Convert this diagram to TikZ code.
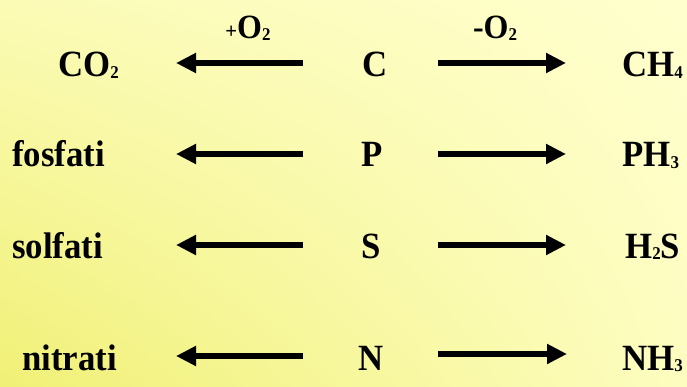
\documentclass[tikz,border=0pt]{standalone}
\usepackage{fontspec}
\setmainfont{Liberation Serif}
\newfontfamily\chemfont{Liberation Serif}[FakeStretch=0.94]
\usetikzlibrary{arrows.meta,shadings}
\definecolor{bgll}{RGB}{240,240,118}
\definecolor{bgul}{RGB}{251,251,182}
\definecolor{bglr}{RGB}{253,253,192}
\definecolor{bgur}{RGB}{255,255,206}
\newcommand{\sbs}[1]{\raisebox{-1.5pt}{\fontsize{18}{18}\selectfont #1}}
\tikzset{
  chem/.style={font=\chemfont\fontsize{37}{37}\selectfont\bfseries, inner sep=0pt, text=black},
  lab/.style={font=\chemfont\fontsize{34}{34}\selectfont\bfseries, inner sep=0pt, text=black},
  arr/.style={line width=6.5pt, -{Triangle[length=20pt,width=19pt]}, black}
}
\begin{document}
\begin{tikzpicture}[x=1pt,y=-1pt]
\shade[lower left=bgll, upper left=bgul, lower right=bglr, upper right=bgur] (0,387) rectangle (687,0);
\useasboundingbox (0,0) rectangle (687,387);
% labels
\node[lab, anchor=base] (plus) at (248,39) {{\fontsize{22}{22}\selectfont +}O\sbs{2}};
\node[lab, anchor=base] (minus) at (495,39) {-O\sbs{2}};
% row 1
\node[chem, anchor=base west] (co2) at (58,77) {CO\sbs{2}};
\node[chem, anchor=base] (c) at (375,77) {C};
\node[chem, anchor=base west] (ch4) at (622,77) {CH\sbs{4}};
\coordinate (l1a) at (303,63); \coordinate (l1b) at (176,63);
\coordinate (r1a) at (438,63); \coordinate (r1b) at (566,63);
\draw[arr] (l1a) -- (l1b);
\draw[arr] (r1a) -- (r1b);
% row 2
\node[chem, anchor=base west] (fos) at (12,167) {fosfati};
\node[chem, anchor=base] (p) at (372,167) {P};
\node[chem, anchor=base west] (ph3) at (622,167) {PH\sbs{3}};
\coordinate (l2a) at (303,154); \coordinate (l2b) at (176,154);
\coordinate (r2a) at (438,154); \coordinate (r2b) at (566,154);
\draw[arr] (l2a) -- (l2b);
\draw[arr] (r2a) -- (r2b);
% row 3
\node[chem, anchor=base west] (sol) at (12,258) {solfati};
\node[chem, anchor=base] (s) at (371,258) {S};
\node[chem, anchor=base west] (h2s) at (625,258) {H\sbs{2}S};
\coordinate (l3a) at (303,245); \coordinate (l3b) at (176,245);
\coordinate (r3a) at (438,245); \coordinate (r3b) at (566,245);
\draw[arr] (l3a) -- (l3b);
\draw[arr] (r3a) -- (r3b);
% row 4
\node[chem, anchor=base west] (nit) at (22,370) {nitrati};
\node[chem, anchor=base] (n) at (371,370) {N};
\node[chem, anchor=base west] (nh3) at (622,370) {NH\sbs{3}};
\coordinate (l4a) at (303,356); \coordinate (l4b) at (176,356);
\coordinate (r4a) at (438,354); \coordinate (r4b) at (567,354);
\draw[arr] (l4a) -- (l4b);
\draw[arr] (r4a) -- (r4b);
\end{tikzpicture}
\end{document}
